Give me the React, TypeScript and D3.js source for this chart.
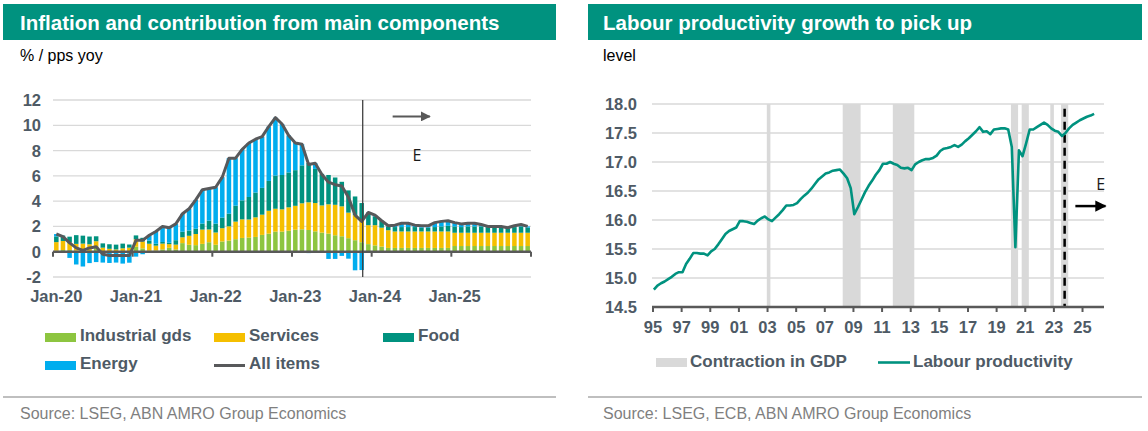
import { useMemo } from 'react'
import * as d3 from 'd3'

// Left chart: monthly HICP contributions, Jan-20 .. Dec-25 (pps), E = forecast from Dec-23
const MONTHS = d3.timeMonth.range(new Date(2020, 0, 1), new Date(2026, 0, 1)).map(d3.timeFormat('%b-%y'))
const X_TICKS_L = ['Jan-20', 'Jan-21', 'Jan-22', 'Jan-23', 'Jan-24', 'Jan-25']
const Y_TICKS_L = [-2, 0, 2, 4, 6, 8, 10, 12]

const INDUSTRIAL = [
  0.08, 0.13, 0.13, 0.08, 0.05, 0.05, 0.42, -0.03, -0.03, -0.03, -0.08, -0.13,
  0.39, 0.26, 0.08, 0.1, 0.18, 0.31, 0.18, 0.68, 0.55, 0.52, 0.62, 0.75,
  0.55, 0.81, 0.88, 0.99, 1.09, 1.12, 1.17, 1.33, 1.43, 1.59, 1.59, 1.66,
  1.74, 1.77, 1.72, 1.61, 1.51, 1.43, 1.3, 1.22, 1.07, 0.91, 0.75, 0.6,
  0.5, 0.4, 0.3, 0.3, 0.3, 0.3, 0.3, 0.3, 0.3, 0.3, 0.3, 0.3,
  0.45, 0.45, 0.45, 0.45, 0.45, 0.45, 0.45, 0.45, 0.45, 0.45, 0.45, 0.45,
]
const SERVICES = [
  0.68, 0.72, 0.59, 0.54, 0.59, 0.54, 0.41, 0.32, 0.23, 0.18, 0.27, 0.32,
  0.59, 0.55, 0.55, 0.38, 0.46, 0.29, 0.38, 0.46, 0.71, 0.88, 1.13, 1.01,
  0.97, 1.05, 1.13, 1.39, 1.47, 1.43, 1.55, 1.6, 1.81, 1.81, 1.76, 1.85,
  1.89, 2.06, 2.19, 2.24, 2.15, 2.32, 2.41, 2.37, 2.02, 1.98, 1.72, 1.5,
  1.6, 1.5, 1.4, 1.3, 1.3, 1.3, 1.3, 1.3, 1.3, 1.3, 1.3, 1.3,
  1.05, 1.05, 1.05, 1.05, 1.05, 1.05, 1.05, 1.05, 1.05, 1.05, 1.05, 1.05,
]
const FOOD = [
  0.45, 0.43, 0.47, 0.69, 0.63, 0.61, 0.39, 0.34, 0.36, 0.38, 0.37, 0.25,
  0.31, 0.29, 0.24, 0.15, 0.13, 0.11, 0.35, 0.44, 0.42, 0.42, 0.48, 0.7,
  0.7, 0.84, 1.0, 1.26, 1.5, 1.78, 1.96, 2.12, 2.36, 2.62, 2.72, 2.76,
  2.82, 3.0, 3.1, 2.7, 2.5, 2.32, 2.16, 1.94, 1.76, 1.48, 1.38, 1.0,
  0.7, 0.55, 0.3, 0.35, 0.35, 0.35, 0.35, 0.3, 0.3, 0.35, 0.4, 0.45,
  0.5, 0.45, 0.5, 0.5, 0.5, 0.45, 0.45, 0.45, 0.35, 0.45, 0.5, 0.4,
]
const ENERGY = [
  0.19, -0.08, -0.49, -1.01, -1.17, -0.9, -0.82, -0.83, -0.86, -0.83, -0.86, -0.74,
  -0.39, -0.2, 0.43, 0.97, 1.23, 1.19, 1.29, 1.42, 1.72, 2.28, 2.67, 2.54,
  2.88, 3.2, 4.39, 3.76, 4.04, 4.27, 4.22, 4.05, 4.3, 4.58, 4.03, 2.93,
  2.15, 1.67, -0.11, 0.45, -0.06, -0.57, -0.57, -0.33, -0.55, -1.47, -1.45, 0.0,
  0.1, 0.0, 0.05, 0.15, 0.3, 0.3, 0.15, 0.15, 0.15, 0.35, 0.4, 0.4,
  0.3, 0.25, 0.25, 0.25, 0.15, 0.05, 0.05, 0.05, 0.05, 0.1, 0.15, 0.1,
]
const ALL_ITEMS = [
  1.4, 1.2, 0.7, 0.3, 0.1, 0.3, 0.4, -0.2, -0.3, -0.3, -0.3, -0.3,
  0.9, 0.9, 1.3, 1.6, 2.0, 1.9, 2.2, 3.0, 3.4, 4.1, 4.9, 5.0,
  5.1, 5.9, 7.4, 7.4, 8.1, 8.6, 8.9, 9.1, 9.9, 10.6, 10.1, 9.2,
  8.6, 8.5, 6.9, 7.0, 6.1, 5.5, 5.3, 5.2, 4.3, 2.9, 2.4, 3.1,
  2.9, 2.45, 2.05, 2.1, 2.25, 2.25, 2.1, 2.05, 2.05, 2.3, 2.4, 2.45,
  2.3, 2.2, 2.25, 2.25, 2.15, 2.0, 2.0, 2.0, 1.9, 2.05, 2.15, 2.0,
]
const LAST_ACTUAL_L = 'Nov-23'

// Right chart: quarterly labour productivity level, 1995Q1 .. 2025Q4
const PROD_START = 1995
const PRODUCTIVITY = [
  14.8, 14.87, 14.91, 14.94, 14.98, 15.02, 15.07, 15.1, 15.1, 15.24, 15.33, 15.43,
  15.43, 15.42, 15.42, 15.39, 15.46, 15.5, 15.58, 15.67, 15.76, 15.81, 15.84, 15.87,
  15.98, 15.98, 15.97, 15.95, 15.93, 15.99, 16.03, 16.06, 16.01, 15.98, 16.04, 16.1,
  16.17, 16.25, 16.25, 16.26, 16.29, 16.36, 16.42, 16.47, 16.54, 16.62, 16.7, 16.75,
  16.8, 16.82, 16.85, 16.86, 16.87, 16.8, 16.72, 16.55, 16.1, 16.22, 16.35, 16.48,
  16.59, 16.68, 16.78, 16.86, 16.97, 16.97, 17.0, 16.97, 16.95, 16.9, 16.89, 16.9,
  16.86, 16.96, 17.0, 17.03, 17.05, 17.05, 17.07, 17.11, 17.19, 17.23, 17.24, 17.26,
  17.29, 17.26, 17.3, 17.36, 17.41, 17.47, 17.53, 17.6, 17.52, 17.53, 17.48, 17.56,
  17.57, 17.58, 17.58, 17.56, 17.26, 15.53, 17.2, 17.1, 17.32, 17.56, 17.56, 17.6,
  17.64, 17.68, 17.64, 17.58, 17.54, 17.52, 17.45, 17.5, 17.58, 17.64, 17.68, 17.72,
  17.75, 17.78, 17.8, 17.83,
]
const RECESSIONS: [number, number][] = [
  [2002.95, 2003.2], [2008.25, 2009.5], [2011.75, 2013.25], [2020.0, 2020.5],
  [2020.75, 2021.25], [2022.75, 2023.0], [2023.5, 2024.0],
]
const FORECAST_R = 2023.75
const X_TICKS_R = d3.range(1995, 2026, 2)
const Y_TICKS_R = [14.5, 15, 15.5, 16, 16.5, 17, 17.5, 18]

const FONT = '"Liberation Sans", Arial, sans-serif'
const INK = '#4e5a65'
const TEAL = '#00927f'
const C_IND = '#8dc540'
const C_SERV = '#f5bf00'
const C_FOOD = '#00927f'
const C_ENERGY = '#00adee'
const C_LINE = '#58595b'

export default function App() {
  const left = useMemo(() => {
    const x = d3.scaleBand<string>().domain(MONTHS).range([53, 531]).paddingInner(0.32).paddingOuter(0.16)
    const y = d3.scaleLinear().domain([-2, 12]).range([277, 100])
    const rows = MONTHS.map((m, i) => ({ m, ind: INDUSTRIAL[i], serv: SERVICES[i], food: FOOD[i], energy: ENERGY[i] }))
    const series = d3.stack<any>().keys(['ind', 'serv', 'food', 'energy']).offset(d3.stackOffsetDiverging)(rows)
    const line = d3.line<number>().x((_, i) => x(MONTHS[i])! + x.bandwidth() / 2).y((v) => y(v))(ALL_ITEMS)
    const edge = (m: string) => x(m)! - (x.step() * x.paddingInner()) / 2
    return { x, y, series, line, edge }
  }, [])

  const right = useMemo(() => {
    const x = d3.scaleLinear().domain([1995, 2026.5]).range([653, 1104])
    const y = d3.scaleLinear().domain([14.5, 18]).range([307, 104])
    const line = d3
      .line<number>()
      .x((_, i) => x(PROD_START + i / 4 + 0.06))
      .y((v) => y(v))(PRODUCTIVITY)
    return { x, y, line }
  }, [])

  const colors: Record<string, string> = { ind: C_IND, serv: C_SERV, food: C_FOOD, energy: C_ENERGY }
  const { x: xl, y: yl } = left
  const { x: xr, y: yr } = right
  const vx = xl(LAST_ACTUAL_L)! + xl.bandwidth() / 2 + 1

  return (
    <svg width={1148} height={431} style={{ position: 'absolute', left: 0, top: 0, fontFamily: FONT }}>
      <defs>
        <marker id="arrG" viewBox="0 0 10 10" refX="9" refY="5" markerWidth="5" markerHeight="5" orient="auto">
          <path d="M0,0 L10,5 L0,10 z" fill="#595959" />
        </marker>
        <marker id="arrK" viewBox="0 0 10 10" refX="9" refY="5" markerWidth="4.5" markerHeight="4.5" orient="auto">
          <path d="M0,0 L10,5 L0,10 z" fill="#000" />
        </marker>
      </defs>
      <rect width={1148} height={431} fill="#fff" />

      {/* ---------- LEFT PANEL ---------- */}
      <rect x={3} y={4} width={553} height={36} fill={TEAL} />
      <text x={20} y={30} fill="#fff" fontSize={20.5} fontWeight="bold">
        Inflation and contribution from main components
      </text>
      <text x={20} y={61} fontSize={16} fill="#000">% / pps yoy</text>

      {Y_TICKS_L.map((t) => (
        <g key={t}>
          {t !== 0 && <line x1={53} x2={531} y1={yl(t)} y2={yl(t)} stroke="#d9d9d9" strokeWidth={1.3} />}
          <text x={41} y={yl(t) + 6} textAnchor="end" fontSize={16.5} fontWeight="bold" fill={INK}>
            {t}
          </text>
        </g>
      ))}

      {left.series.map((s) =>
        s.map((d, i) => (
          <rect
            key={s.key + i}
            x={xl(MONTHS[i])}
            width={xl.bandwidth()}
            y={yl(Math.max(d[0], d[1]))}
            height={Math.abs(yl(d[0]) - yl(d[1]))}
            fill={colors[s.key]}
          />
        )),
      )}

      <line x1={53} x2={531} y1={yl(0)} y2={yl(0)} stroke="#595959" strokeWidth={2.5} />
      {[...X_TICKS_L, null].map((m, i) => {
        const tx = m ? left.edge(m) : 531
        return <line key={i} x1={tx} x2={tx} y1={yl(0)} y2={yl(0) + 5} stroke="#595959" strokeWidth={2} />
      })}
      {X_TICKS_L.map((m) => (
        <text key={m} x={xl(m)! + xl.bandwidth() / 2} y={302} textAnchor="middle" fontSize={16.5} fontWeight="bold" fill={INK}>
          {m}
        </text>
      ))}

      <path d={left.line!} fill="none" stroke={C_LINE} strokeWidth={3} strokeLinejoin="round" />

      <line x1={vx} x2={vx} y1={yl(12)} y2={yl(-2)} stroke="#404040" strokeWidth={1.3} />
      <line
        x1={xl('Apr-24')}
        x2={xl('Sep-24')! + 4}
        y1={yl(10.7)}
        y2={yl(10.7)}
        stroke="#595959"
        strokeWidth={2}
        markerEnd="url(#arrG)"
      />
      <text x={xl('Jul-24')} y={yl(7.2)} fontSize={16} fill="#1a1a1a" fontFamily='"Open Sans", sans-serif'>
        E
      </text>

      {/* legend left */}
      <rect x={45} y={333} width={31} height={9} fill={C_IND} />
      <text x={80} y={341} fontSize={17} fontWeight="bold" fill={INK}>Industrial gds</text>
      <rect x={214} y={333} width={31} height={9} fill={C_SERV} />
      <text x={249} y={341} fontSize={17} fontWeight="bold" fill={INK}>Services</text>
      <rect x={383} y={333} width={31} height={9} fill={C_FOOD} />
      <text x={418} y={341} fontSize={17} fontWeight="bold" fill={INK}>Food</text>
      <rect x={45} y={361} width={31} height={9} fill={C_ENERGY} />
      <text x={80} y={369} fontSize={17} fontWeight="bold" fill={INK}>Energy</text>
      <line x1={214} x2={245} y1={365.5} y2={365.5} stroke={C_LINE} strokeWidth={3} />
      <text x={249} y={369} fontSize={17} fontWeight="bold" fill={INK}>All items</text>

      <line x1={3} x2={556} y1={397} y2={397} stroke="#bfbfbf" strokeWidth={2} />
      <text x={20} y={419} fontSize={16} fill="#7f7f7f">Source: LSEG, ABN AMRO Group Economics</text>

      {/* ---------- RIGHT PANEL ---------- */}
      <rect x={588} y={4} width={554} height={36} fill={TEAL} />
      <text x={603} y={30} fill="#fff" fontSize={20.5} fontWeight="bold">
        Labour productivity growth to pick up
      </text>
      <text x={603} y={61} fontSize={16} fill="#000">level</text>

      {RECESSIONS.map(([a, b], i) => (
        <rect key={i} x={xr(a)} width={xr(b) - xr(a)} y={yr(18)} height={yr(14.5) - yr(18)} fill="#d9d9d9" />
      ))}

      {Y_TICKS_R.map((t) => (
        <g key={t}>
          {t !== 14.5 && <line x1={652} x2={1104} y1={yr(t)} y2={yr(t)} stroke="#d9d9d9" strokeWidth={1.3} />}
          <text x={637} y={yr(t) + 6} textAnchor="end" fontSize={16.5} fontWeight="bold" fill={INK}>
            {t.toFixed(1)}
          </text>
        </g>
      ))}

      <line
        x1={xr(FORECAST_R)}
        x2={xr(FORECAST_R)}
        y1={yr(17.92)}
        y2={yr(14.5)}
        stroke="#000"
        strokeWidth={2.5}
        strokeDasharray="8 5"
      />

      <path d={right.line!} fill="none" stroke={TEAL} strokeWidth={2.6} strokeLinejoin="round" />

      <line x1={652} x2={1104} y1={yr(14.5)} y2={yr(14.5)} stroke="#595959" strokeWidth={2.5} />
      {X_TICKS_R.map((t) => (
        <g key={t}>
          <line x1={xr(t)} x2={xr(t)} y1={yr(14.5)} y2={yr(14.5) + 5} stroke="#595959" strokeWidth={2} />
          <text x={xr(t)} y={333} textAnchor="middle" fontSize={16.5} fontWeight="bold" fill={INK}>
            {String(t % 100).padStart(2, '0')}
          </text>
        </g>
      ))}

      <text x={xr(2025.95)} y={yr(16.52)} fontSize={16} fill="#1a1a1a" fontFamily='"Open Sans", sans-serif'>
        E
      </text>
      <line
        x1={xr(2024.5)}
        x2={xr(2026.6)}
        y1={yr(16.24)}
        y2={yr(16.24)}
        stroke="#000"
        strokeWidth={2.5}
        markerEnd="url(#arrK)"
      />

      {/* legend right */}
      <rect x={656} y={358} width={31} height={9} fill="#d9d9d9" />
      <text x={690} y={367} fontSize={17} fontWeight="bold" fill={INK}>Contraction in GDP</text>
      <line x1={878} x2={910} y1={362.5} y2={362.5} stroke={TEAL} strokeWidth={2.6} />
      <text x={913} y={367} fontSize={17} fontWeight="bold" fill={INK}>Labour productivity</text>

      <line x1={588} x2={1142} y1={397} y2={397} stroke="#bfbfbf" strokeWidth={2} />
      <text x={603} y={419} fontSize={16} fill="#7f7f7f">Source: LSEG, ECB, ABN AMRO Group Economics</text>
    </svg>
  )
}
